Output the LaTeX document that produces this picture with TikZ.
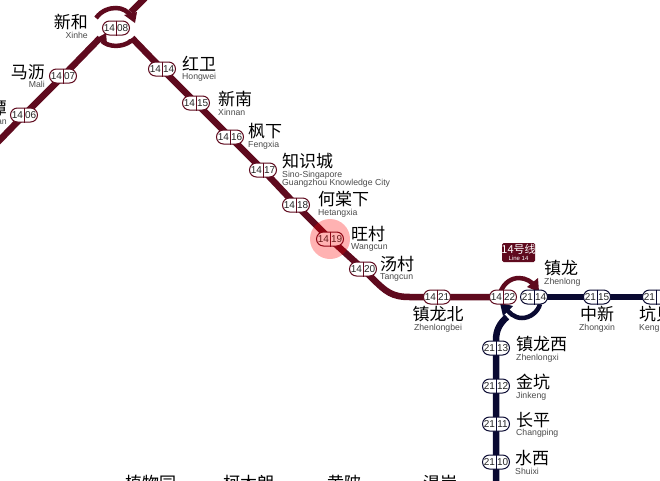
\documentclass[tikz,border=0pt]{standalone}
\usepackage{fontspec}
\setmainfont{Liberation Sans}
\newfontfamily\cjk{Noto Sans CJK SC}
\usetikzlibrary{shapes.misc,arrows.meta,backgrounds,calc}
\definecolor{lineA}{HTML}{5F0A1E}
\definecolor{lineB}{HTML}{0A0A32}
\tikzset{
 x=1pt,y=-1pt,
 pill/.style={draw=#1,fill=white,line width=1pt,rounded rectangle,minimum width=27pt,minimum height=14pt,inner sep=0pt,text=black},
 track/.style={line width=6.5pt,draw=#1},
 arcline/.style={line width=4.5pt,draw=#1},
 zh/.style={inner sep=0pt,font=\cjk\fontsize{17}{17}\selectfont,text=black},
 en/.style={inner sep=0pt,font=\fontsize{8.7}{9}\selectfont,text=black!70,align=left},
 num/.style={inner sep=0pt,font=\fontsize{10}{10}\selectfont,text=black!85},
 badge/.style={fill=lineA,rounded corners=1.5pt,minimum width=33pt,minimum height=19pt,inner sep=0pt,text=white,align=center},
 halo/.style={fill=red,fill opacity=.3,circle,minimum size=40pt,inner sep=0pt}
}
\newcommand{\stn}[6]{% name, x, y, left, right, colour
 \node[pill=#6] (#1) at (#2,#3) {};
 \draw[#6,line width=.8pt] (#1.north) -- (#1.south);
 \node[num] at ($(#1.center)+(-6.6,0)$) {#4};
 \node[num] at ($(#1.center)+(6.6,0)$) {#5};
}
\newcommand{\lbl}[5]{% name, x, y(zh center), zh, en : anchor west
 \node[zh,anchor=west] (#1z) at (#2,#3) {#4};
 \node[en,anchor=north west] (#1e) at ($(#1z.south west)+(0,1.5)$) {#5};
}
\newcommand{\lblr}[5]{% right aligned
 \node[zh,anchor=east] (#1z) at (#2,#3) {#4};
 \node[en,anchor=north east] (#1e) at ($(#1z.south east)+(0,1.5)$) {#5};
}
\newcommand{\lblc}[5]{% centred
 \node[zh] (#1z) at (#2,#3) {#4};
 \node[en,anchor=north] (#1e) at ($(#1z.south)+(0,1.5)$) {#5};
}
\begin{document}
\begin{tikzpicture}
\useasboundingbox (0,0) rectangle (660,480);
\begin{scope}
\clip (0,0) rectangle (660,480);

\stn{a}{24}{115}{14}{06}{lineA}
\stn{b}{63}{76}{14}{07}{lineA}
\stn{c}{116}{28}{14}{08}{lineA}
\stn{d}{162}{69}{14}{14}{lineA}
\stn{e}{196}{103}{14}{15}{lineA}
\stn{f}{230}{137}{14}{16}{lineA}
\stn{g}{263}{170}{14}{17}{lineA}
\stn{h}{296}{205}{14}{18}{lineA}
\stn{i}{330}{239}{14}{19}{lineA}
\stn{j}{363}{269}{14}{20}{lineA}
\stn{k}{437}{297}{14}{21}{lineA}
\stn{l}{503}{297}{14}{22}{lineA}
\stn{m}{534}{297}{21}{14}{lineB}
\stn{n}{597}{297}{21}{15}{lineB}
\stn{o}{656}{297}{21}{}{lineB}
\stn{p}{496}{348}{21}{13}{lineB}
\stn{q}{496}{386}{21}{12}{lineB}
\stn{r}{496}{424}{21}{11}{lineB}
\stn{s}{496}{462}{21}{10}{lineB}

\coordinate (t0) at (-6,146);
\coordinate (t1) at (100,38);
\coordinate (t2) at (145,-2);
\coordinate (t3) at (131,12);
\coordinate (t4) at (132,38);
\coordinate (u0) at (496,482);
\coordinate (v0) at (670,297);

\begin{scope}[on background layer]
 \fill[white] (0,0) rectangle (660,480);
 \draw[track=lineA] (t0) -- (a.center) -- (b.center) -- (t1);
 \draw[track=lineA] (t2) -- (t3);
 \draw[track=lineA] (t4) -- (d.center) -- (e.center) -- (f.center) -- (g.center) -- (h.center) -- (i.center) -- (j.center) -- (372,278) .. controls (386,292) and (392,297) .. (410,297) -- (k.center) -- (l.center);
 \draw[track=lineB] (m.center) -- (n.center) -- (o.center) -- (v0);
 \draw[track=lineB] (u0) -- (s.center) -- (r.center) -- (q.center) -- (p.center) -- (496,340) .. controls (496,330) and (500,323) .. (507,317);
 \draw[arcline=lineA] (96,18) .. controls (102,10) and (110,8) .. (116,8) .. controls (122,8) and (128,11) .. (132,17);
 \fill[lineA] (124,15) -- (137,12) -- (135,23) -- cycle;
 \draw[arcline=lineA] (102,41) .. controls (108,47) and (122,48) .. (131,41);
 \fill[lineA] (95,39) -- (106,33) -- (107,44) -- cycle;
 \fill[lineA] (128,40) -- (135,37) -- (134,44) -- cycle;
 \draw[arcline=lineA] (500,293) .. controls (504,282) and (512,278) .. (519,278) .. controls (526,278) and (532,282) .. (535,286);
 \fill[lineA] (527,287) -- (538,278) -- (539,292) -- cycle;
 \draw[arcline=lineB] (540,304) .. controls (538,312) and (530,318) .. (522,318) .. controls (514,318) and (508,312) .. (506,308);
 \fill[lineB] (500,303) -- (513,306) -- (503,316) -- cycle;
\end{scope}

\node[zh,anchor=east] (Az) at (7,108) {潭};
\node[en,anchor=east] (Ae) at (7,122) {an};
\lblr{B}{45}{72}{马沥}{Mali}
\lblr{C}{88}{22}{新和}{Xinhe}
\lbl{D}{182}{64}{红卫}{Hongwei}
\lbl{E}{218}{99}{新南}{Xinnan}
\lbl{F}{248}{131}{枫下}{Fengxia}
\lbl{G}{282}{161}{知识城}{Sino-Singapore\\[-1pt]Guangzhou Knowledge City}
\lbl{H}{318}{199}{何棠下}{Hetangxia}
\lbl{I}{351}{234}{旺村}{Wangcun}
\lbl{J}{380}{264}{汤村}{Tangcun}
\lblc{K}{438}{314}{镇龙北}{Zhenlongbei}
\lbl{M}{544}{268}{镇龙}{Zhenlong}
\lblc{N}{597}{314}{中新}{Zhongxin}
\lbl{O}{639}{314}{坑贝}{Kengbei}
\lbl{P}{516}{344}{镇龙西}{Zhenlongxi}
\lbl{Q}{516}{382}{金坑}{Jinkeng}
\lbl{R}{516}{420}{长平}{Changping}
\lbl{S}{515}{458}{水西}{Shuixi}
\node[zh,anchor=west] (T1) at (125,483) {植物园};
\node[zh,anchor=west] (T2) at (223,483) {柯木朗};
\node[zh,anchor=west] (T3) at (327,483) {黄陂};
\node[zh,anchor=west] (T4) at (423,483) {渴岸};

\node[badge] (bd) at (518.5,252.5) {};
\node[inner sep=0pt,text=white,font=\cjk\fontsize{11}{11}\selectfont] (bd1) at (518.5,249.5) {14号线};
\node[inner sep=0pt,text=white,font=\fontsize{6}{6}\selectfont] (bd2) at (518.5,258.5) {Line 14};

\node[halo] (hl) at (330,239) {};
\end{scope}
\end{tikzpicture}
\end{document}
